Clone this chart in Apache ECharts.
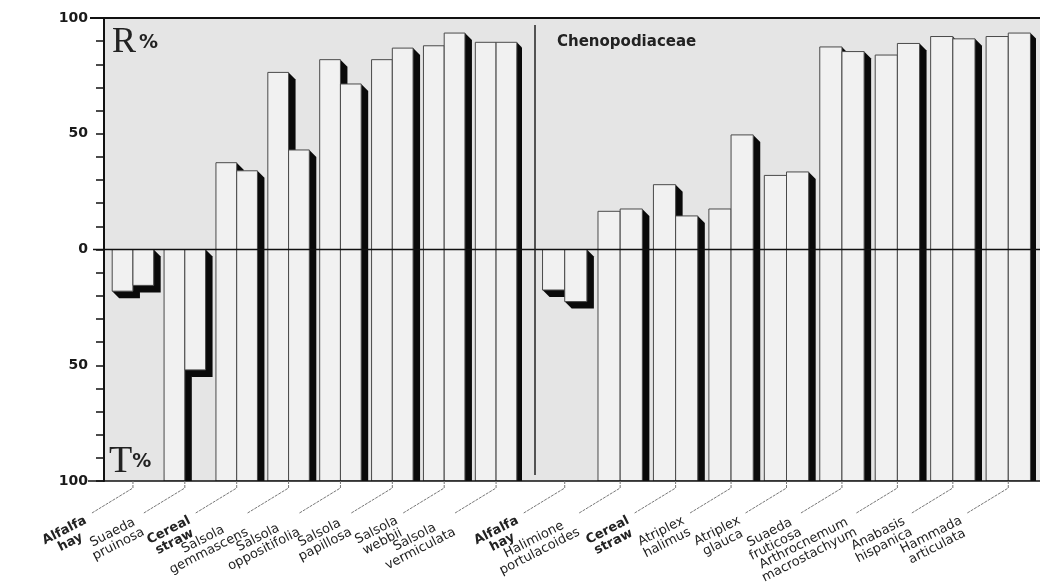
<!DOCTYPE html>
<html>
<head>
<meta charset="utf-8">
<script src="https://cdn.jsdelivr.net/npm/echarts@6/dist/echarts.min.js"></script>
<style>
html,body{margin:0;padding:0;background:#ffffff;}
#chart{width:1040px;height:583px;}
</style>
</head>
<body>
<div id="chart"></div>
<script>
// ---------------- data ----------------
const categories = [
  'Alfalfa\nhay', 'Suaeda\npruinosa', 'Cereal\nstraw', 'Salsola\ngemmascens',
  'Salsola\noppositifolia', 'Salsola\npapillosa', 'Salsola\nwebbii', 'Salsola\nvermiculata',
  'Alfalfa\nhay', 'Halimione\nportulacoides', 'Cereal\nstraw', 'Atriplex\nhalimus',
  'Atriplex\nglauca', 'Suaeda\nfruticosa', 'Arthrocnemum\nmacrostachyum',
  'Anabasis\nhispanica', 'Hammada\narticulata'
];
const controlFeeds = ['Alfalfa\nhay', 'Cereal\nstraw'];
// R% (upward) and T% (downward) for the first and second bar of each pair
const rFirst  = [0, 0, 37.5, 76.5, 82, 82, 88, 89.5, 0, 16.5, 28, 17.5, 32, 87.5, 84, 92, 92];
const tFirst  = [18, 100, 100, 100, 100, 100, 100, 100, 17.5, 100, 100, 100, 100, 100, 100, 100, 100];
const rSecond = [0, 0, 34, 43, 71.5, 87, 93.5, 89.5, 0, 17.5, 14.5, 49.5, 33.5, 85.5, 89, 91, 93.5];
const tSecond = [15.5, 52, 100, 100, 100, 100, 100, 100, 22.5, 100, 100, 100, 100, 100, 100, 100, 100];
const panelSplit = 8;               // pairs before the divider; the rest are Chenopodiaceae
const panelTitle = 'Chenopodiaceae';
const yMin = -100, yMax = 100, yStep = 10, yLabelStep = 50;

// ---------------- helpers ----------------
const FONT = '"DejaVu Sans", "Liberation Sans", sans-serif';
const mctx = document.createElement('canvas').getContext('2d');
function measure(str, bold, size) {
  mctx.font = (bold ? 'bold ' : '') + size + 'px ' + FONT;
  return Math.max.apply(null, str.split('\n').map(s => mctx.measureText(s).width));
}

function buildRows(from, to) {
  const rows = [];
  for (let k = from; k < to; k++) {
    rows.push([k - from, rFirst[k], tFirst[k], rSecond[k], tSecond[k]]);
  }
  return rows;
}

const DEPTH = 7;
function renderPair(params, api) {
  const i = api.value(0);
  const band = api.size([1, 0])[0];
  const w = band * 0.4;
  const cx = api.coord([i, 0])[0];
  const children = [];
  [[1, 2, -1], [3, 4, 0]].forEach(function (d) {
    const r = api.value(d[0]);
    const t = api.value(d[1]);
    const x0 = cx + d[2] * w;
    const x1 = x0 + w;
    const yTop = api.coord([i, r])[1];
    const yBot = api.coord([i, -t])[1];
    children.push({
      type: 'polygon',
      shape: { points: [[x1, yTop], [x1 + DEPTH, yTop + DEPTH], [x1 + DEPTH, yBot + DEPTH], [x0 + DEPTH, yBot + DEPTH], [x0, yBot]] },
      style: { fill: '#0a0a0a' }
    });
    children.push({
      type: 'rect',
      shape: { x: x0, y: yTop, width: w, height: yBot - yTop },
      style: { fill: '#f1f1f1', stroke: '#4a4a4a', lineWidth: 1 }
    });
  });
  return { type: 'group', children: children };
}

function makeLabelRender(labels, withDivider) {
  return function (params, api) {
    const i = api.value(0);
    const cs = params.coordSys;
    const yb = cs.y + cs.height;
    const cx = api.coord([i, 0])[0];
    const ky = yb + 7;
    const ex = cx - 41, ey = yb + 32;
    const text = labels[i];
    const bold = controlFeeds.indexOf(text) >= 0;
    const fs = 13, lh = 13;
    const w = measure(text, bold, fs);
    const h = lh * text.split('\n').length;
    const th = 27 * Math.PI / 180;
    const ax = ex - 9, ay = ey + 1;
    const ux = Math.cos(th), uy = -Math.sin(th);
    const vx = Math.sin(th), vy = Math.cos(th);
    const c0 = ax - ux * w / 2 + vx * h / 2;
    const c1 = ay - uy * w / 2 + vy * h / 2;
    const children = [
      { type: 'polyline', shape: { points: [[cx, yb], [cx, ky], [ex, ey]] },
        style: { stroke: '#777', lineWidth: 1, fill: null, lineDash: [3, 1] } },
      { type: 'text', x: c0, y: c1, rotation: th,
        style: { text: text, fontSize: fs, fontFamily: FONT, fontWeight: bold ? 'bold' : 'normal',
                 fill: '#222', align: 'center', verticalAlign: 'middle', lineHeight: lh } }
    ];
    if (withDivider && params.dataIndex === 0) {
      children.push({ type: 'line', shape: { x1: cs.x - 2, y1: cs.y + 7, x2: cs.x - 2, y2: yb - 6 },
        style: { stroke: '#222', lineWidth: 1.5 } });
    }
    return { type: 'group', children: children };
  };
}

function renderFrame(params, api) {
  const cs = params.coordSys;
  const y0 = api.coord([0.5, 0])[1];
  const yb = cs.y + cs.height;
  const right = cs.x + cs.width;
  return { type: 'group', children: [
    { type: 'line', shape: { x1: cs.x - 14, y1: cs.y, x2: right, y2: cs.y }, style: { stroke: '#111', lineWidth: 2 } },
    { type: 'line', shape: { x1: cs.x - 16, y1: yb, x2: right, y2: yb }, style: { stroke: '#111', lineWidth: 1.6 } },
    { type: 'line', shape: { x1: cs.x - 11, y1: y0, x2: right, y2: y0 }, style: { stroke: '#111', lineWidth: 1.5 } }
  ] };
}

const leftLabels = categories.slice(0, panelSplit);
const rightLabels = categories.slice(panelSplit);

const hiddenY = function (gi) {
  return { type: 'value', gridIndex: gi, min: yMin, max: yMax, interval: yStep, show: false };
};

const option = {
  animation: false,
  backgroundColor: '#ffffff',
  grid: [
    { left: 104, top: 18, right: 0, height: 463, show: true, backgroundColor: '#e5e5e5', borderWidth: 0 },
    { left: 107, top: 18, width: 415, height: 463 },
    { left: 537, top: 18, width: 499, height: 463 }
  ],
  xAxis: [
    { type: 'value', gridIndex: 0, min: 0, max: 1, show: false },
    { type: 'category', gridIndex: 1, data: leftLabels, show: false },
    { type: 'category', gridIndex: 2, data: rightLabels, show: false }
  ],
  yAxis: [
    { type: 'value', gridIndex: 0, min: yMin, max: yMax, interval: yStep, z: 5,
      axisLine: { show: true, lineStyle: { color: '#111', width: 2 } },
      axisTick: { show: true, length: 8, lineStyle: { color: '#111', width: 1.5 } },
      splitLine: { show: false },
      axisLabel: { margin: 16, color: '#1a1a1a', fontSize: 14, fontWeight: 'bold', fontFamily: FONT,
        formatter: function (v) { return v % yLabelStep === 0 ? String(Math.abs(v)) : ''; } } },
    hiddenY(1),
    hiddenY(2)
  ],
  graphic: [
    { type: 'text', left: 112, top: 25, z: 20,
      style: { text: '{r|R}{p|%}', rich: {
        r: { fontFamily: '"Liberation Serif", "DejaVu Serif", serif', fontSize: 36, fill: '#222' },
        p: { fontFamily: FONT, fontSize: 19, fontWeight: 'bold', fill: '#222', padding: [0, 0, 0, 3] } } } },
    { type: 'text', left: 109, top: 443, z: 20,
      style: { text: '{r|T}{p|%}', rich: {
        r: { fontFamily: '"Liberation Serif", "DejaVu Serif", serif', fontSize: 38, fill: '#222' },
        p: { fontFamily: FONT, fontSize: 19, fontWeight: 'bold', fill: '#222' } } } },
    { type: 'text', left: 557, top: 35, z: 20,
      style: { text: panelTitle, fontFamily: FONT, fontSize: 15, fontWeight: 'bold', fill: '#222' } }
  ],
  series: [
    { type: 'custom', name: 'bars-left', xAxisIndex: 1, yAxisIndex: 1, clip: true, z: 2,
      encode: { x: 0, y: 1 }, renderItem: renderPair, data: buildRows(0, panelSplit) },
    { type: 'custom', name: 'bars-right', xAxisIndex: 2, yAxisIndex: 2, clip: true, z: 2,
      encode: { x: 0, y: 1 }, renderItem: renderPair, data: buildRows(panelSplit, categories.length) },
    { type: 'custom', name: 'frame', xAxisIndex: 0, yAxisIndex: 0, z: 10, silent: true,
      renderItem: renderFrame, data: [[0.5, 0]] },
    { type: 'custom', name: 'labels-left', xAxisIndex: 1, yAxisIndex: 1, z: 11, silent: true,
      encode: { x: 0, y: 1 }, renderItem: makeLabelRender(leftLabels, false), data: buildRows(0, panelSplit) },
    { type: 'custom', name: 'labels-right', xAxisIndex: 2, yAxisIndex: 2, z: 11, silent: true,
      encode: { x: 0, y: 1 }, renderItem: makeLabelRender(rightLabels, true), data: buildRows(panelSplit, categories.length) }
  ]
};

const chart = echarts.init(document.getElementById('chart'), null, { renderer: 'canvas' });
chart.setOption(option);
</script>
</body>
</html>
